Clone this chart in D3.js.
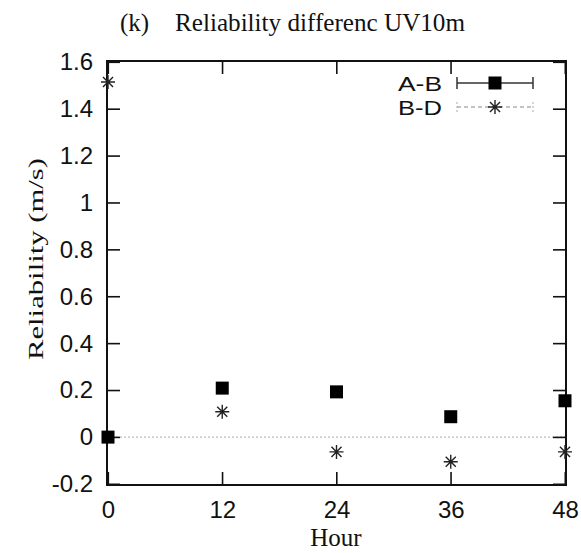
<!DOCTYPE html>
<html><head><meta charset="utf-8">
<script src="https://cdn.jsdelivr.net/npm/d3@7"></script>
<style>body{margin:0;background:#fff}</style>
</head><body>
<svg id="c" width="581" height="553"></svg>
<script>
const hours = [0, 12, 24, 36, 48];
const seriesAB = [0.0, 0.209, 0.193, 0.087, 0.155];
const seriesBD = [1.515, 0.108, -0.063, -0.105, -0.063];
const yTicks = [-0.2, 0, 0.2, 0.4, 0.6, 0.8, 1, 1.2, 1.4, 1.6];
const legendLabels = ["A-B", "B-D"];

const svg = d3.select("#c");
const L = 108, R = 565, T = 62, B = 484;
const x = d3.scaleLinear().domain([0, 48]).range([L, R]);
const y = d3.scaleLinear().domain([-0.2, 1.6]).range([B, T]);
const tickLen = 13;
const ink = "#111";
const sans = "Liberation Sans, Arial, sans-serif";
const serif = "Liberation Serif, Times New Roman, serif";
const off = 1; // frame drawn just outside the data range

// zero line
svg.append("line").attr("x1", L).attr("x2", R).attr("y1", y(0)).attr("y2", y(0))
  .attr("stroke", "#aaa").attr("stroke-width", 1).attr("stroke-dasharray", "2,2");

// tick labels
const fmt = d => d === 0 ? "0" : (Number.isInteger(d) ? String(d) : d.toFixed(1));
function labels(g){
  g.select(".domain").remove();
  g.selectAll(".tick line").remove();
  g.selectAll(".tick text").attr("font-family", sans).attr("font-size", 24).attr("fill", "#111");
}
svg.append("g").attr("transform", `translate(${L},0)`)
  .call(d3.axisLeft(y).tickValues(yTicks).tickSize(0).tickPadding(15).tickFormat(fmt)).call(labels);
svg.append("g").attr("transform", `translate(0,${B})`)
  .call(d3.axisBottom(x).tickValues(hours).tickSize(0).tickPadding(17).tickFormat(d3.format("d"))).call(labels);

// inward ticks
const tg = svg.append("g").attr("stroke", ink).attr("stroke-width", 1.6);
tg.selectAll("line.yl").data(yTicks).join("line").attr("class", "yl")
  .attr("x1", L - off).attr("x2", L - off + tickLen).attr("y1", d => y(d) + 0.3).attr("y2", d => y(d) + 0.3);
tg.selectAll("line.yr").data(yTicks).join("line").attr("class", "yr")
  .attr("x1", R + off).attr("x2", R + off - tickLen).attr("y1", d => y(d) + 0.3).attr("y2", d => y(d) + 0.3);
tg.selectAll("line.xb").data(hours).join("line").attr("class", "xb")
  .attr("x1", d => x(d) + 0.3).attr("x2", d => x(d) + 0.3).attr("y1", B + off).attr("y2", B + off - tickLen);
tg.selectAll("line.xt").data(hours).join("line").attr("class", "xt")
  .attr("x1", d => x(d) + 0.3).attr("x2", d => x(d) + 0.3).attr("y1", T - off).attr("y2", T - off + tickLen);

// frame
svg.append("path")
  .attr("d", `M${L - off},${T - off}L${R + off},${T - off}L${R + off},${B + off}L${L - off},${B + off}Z`)
  .attr("fill", "none").attr("stroke", ink).attr("stroke-width", 2);

// markers
function square(g, cx, cy){
  g.append("rect").attr("x", cx - 6.5).attr("y", cy - 6.5).attr("width", 13).attr("height", 13).attr("fill", "#000");
}
function star(g, cx, cy){
  const r = 7, d = r * 0.72;
  const p = `M${cx-r},${cy}L${cx+r},${cy}M${cx},${cy-r}L${cx},${cy+r}M${cx-d},${cy-d}L${cx+d},${cy+d}M${cx-d},${cy+d}L${cx+d},${cy-d}`;
  g.append("path").attr("d", p).attr("stroke", "#222").attr("stroke-width", 1.4).attr("fill", "none");
}
const gp = svg.append("g");
hours.forEach((h, i) => star(gp, x(h), y(seriesBD[i])));
hours.forEach((h, i) => square(gp, x(h), y(seriesAB[i])));

// legend
const lg = svg.append("g");
const ly = [83, 107];
lg.selectAll("text").data(legendLabels).join("text")
  .attr("x", 442).attr("y", (d, i) => ly[i]).attr("dy", "0.36em")
  .attr("text-anchor", "end").attr("font-family", sans).attr("font-size", 21)
  .attr("textLength", 44).attr("lengthAdjust", "spacingAndGlyphs").attr("fill", "#111").text(d => d);
lg.append("line").attr("x1", 457).attr("x2", 533).attr("y1", ly[0]).attr("y2", ly[0]).attr("stroke", "#333").attr("stroke-width", 1.5);
[457, 533].forEach(xx => lg.append("line").attr("x1", xx).attr("x2", xx).attr("y1", ly[0]-6).attr("y2", ly[0]+6).attr("stroke", "#333").attr("stroke-width", 1.5));
square(lg, 495, ly[0]);
lg.append("line").attr("x1", 457).attr("x2", 533).attr("y1", ly[1]).attr("y2", ly[1]).attr("stroke", "#888").attr("stroke-width", 1).attr("stroke-dasharray", "4,3");
[457, 533].forEach(xx => lg.append("line").attr("x1", xx).attr("x2", xx).attr("y1", ly[1]-5).attr("y2", ly[1]+5).attr("stroke", "#aaa").attr("stroke-width", 1).attr("stroke-dasharray", "2,2"));
star(lg, 495, ly[1]);

// titles
svg.append("text").attr("x", 120).attr("y", 31).attr("font-family", serif).attr("font-size", 25).attr("fill", "#111").text("(k)");
svg.append("text").attr("x", 175).attr("y", 31).attr("font-family", serif).attr("font-size", 25).attr("fill", "#111")
  .attr("textLength", 290).attr("lengthAdjust", "spacingAndGlyphs").text("Reliability differenc UV10m");
svg.append("text").attr("x", 336).attr("y", 546).attr("text-anchor", "middle").attr("font-family", serif).attr("font-size", 25).attr("fill", "#111").text("Hour");
svg.append("text").attr("transform", `translate(43,259) rotate(-90)`).attr("text-anchor", "middle")
  .attr("font-family", serif).attr("font-size", 20).attr("fill", "#111")
  .attr("textLength", 202).attr("lengthAdjust", "spacingAndGlyphs").text("Reliability (m/s)");
</script>
</body></html>
